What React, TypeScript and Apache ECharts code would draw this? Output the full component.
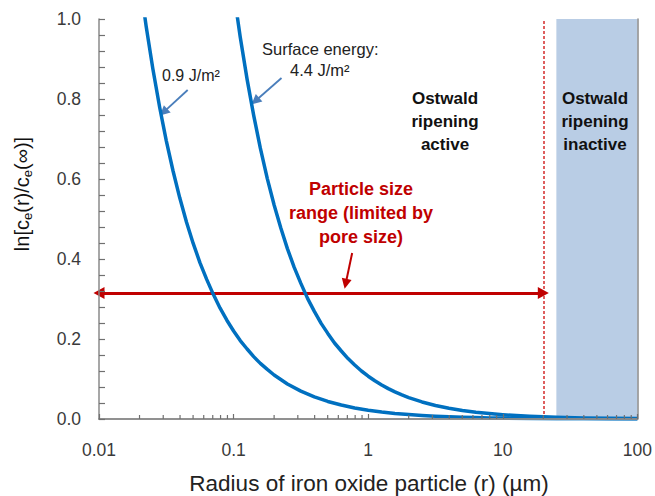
import React, { useEffect, useRef } from "react";
import * as echarts from "echarts";

// Values
const radius09 = [0.02, 0.0224, 0.0251, 0.0282, 0.0316, 0.0355, 0.0398, 0.0447, 0.0501, 0.0562, 0.0631, 0.0708, 0.0794, 0.0891, 0.1, 0.112, 0.126, 0.141, 0.158, 0.178, 0.2, 0.251, 0.316, 0.398, 0.501, 0.631, 0.794, 1, 1.26, 1.58, 2, 2.51, 3.16, 3.98, 5.01, 6.31, 7.94, 10, 15.8, 25.1, 39.8, 63.1, 100];
const lnRatio09 = [1.1, 0.982, 0.876, 0.78, 0.696, 0.62, 0.553, 0.492, 0.439, 0.391, 0.349, 0.311, 0.277, 0.247, 0.22, 0.196, 0.175, 0.156, 0.139, 0.124, 0.11, 0.0876, 0.0696, 0.0553, 0.0439, 0.0349, 0.0277, 0.022, 0.0175, 0.0139, 0.011, 0.0088, 0.007, 0.0055, 0.0044, 0.0035, 0.0028, 0.0022, 0.0014, 0.0009, 0.0006, 0.0003, 0.0002];

const radius44 = [0.1, 0.112, 0.126, 0.141, 0.158, 0.178, 0.2, 0.224, 0.251, 0.282, 0.316, 0.355, 0.398, 0.447, 0.501, 0.562, 0.631, 0.708, 0.794, 0.891, 1, 1.12, 1.26, 1.41, 1.58, 1.78, 2, 2.51, 3.16, 3.98, 5.01, 6.31, 7.94, 10, 12.6, 15.8, 20, 25.1, 39.8, 63.1, 100];
const lnRatio44 = [1.07, 0.955, 0.849, 0.759, 0.677, 0.601, 0.535, 0.478, 0.426, 0.379, 0.339, 0.301, 0.269, 0.239, 0.214, 0.19, 0.17, 0.151, 0.135, 0.12, 0.107, 0.0955, 0.0849, 0.0759, 0.0677, 0.0601, 0.0535, 0.0426, 0.0339, 0.0269, 0.0214, 0.017, 0.0135, 0.0107, 0.0085, 0.0068, 0.0054, 0.0043, 0.0027, 0.0017, 0.0011];

const xTickLabels = ["0.01", "0.1", "1", "10", "100"];
const yTickLabels = ["0.0", "0.2", "0.4", "0.6", "0.8", "1.0"];
const yTickValues = [0, 0.04, 0.08, 0.12, 0.16, 0.2, 0.24, 0.28, 0.32, 0.36, 0.4, 0.44, 0.48, 0.52, 0.56, 0.6, 0.64, 0.68, 0.72, 0.76, 0.8, 0.84, 0.88, 0.92, 0.96, 1.0];

const poreLimit = 20; // µm, red dashed line / arrow end
const inactiveStart = 25; // shaded region start
const rangeArrowY = 0.315;

const decades = [0.01, 0.1, 1, 10];
const minorMultipliers = [2, 3, 4, 5, 6, 7, 8, 9];

const AXIS_GRAY = "#8a8a8a";
const TICK_GRAY = "#707070";
const BLUE = "#0070c0";
const RED = "#c00000";
const FONT = "'Liberation Sans', Arial, sans-serif";

export default function App() {
  const ref = useRef<HTMLDivElement>(null);

  useEffect(() => {
    document.body.style.margin = "0";
    if (!ref.current) return;
    const chart = echarts.init(ref.current, undefined, { renderer: "svg" });

    const xMinorTicks: number[][] = [];
    decades.forEach((d) => minorMultipliers.forEach((m) => xMinorTicks.push([d * m, 0])));

    const fmtX = (v: number) => {
      const i = Math.round(Math.log10(v)) + 2;
      return xTickLabels[i] ?? "";
    };
    const fmtY = (v: number) => {
      const i = Math.round(v / 0.2);
      return yTickLabels[i] ?? "";
    };

    const textBase = { fontFamily: FONT, textVerticalAlign: "middle" };

    const option: any = {
      animation: false,
      textStyle: { fontFamily: FONT },
      grid: { left: 99, right: 16, top: 19, bottom: 77, containLabel: false },
      xAxis: [
        {
          type: "log",
          logBase: 10,
          min: 0.01,
          max: 100,
          axisLine: { show: true, lineStyle: { color: AXIS_GRAY, width: 1.5 } },
          axisTick: { show: true, inside: true, length: 5, lineStyle: { color: TICK_GRAY, width: 1.2 } },
          axisLabel: { formatter: fmtX, fontSize: 17.5, color: "#3a3a3a", margin: 22, fontFamily: FONT },
          splitLine: { show: false },
          z: 10,
        },
        {
          type: "log",
          logBase: 10,
          min: 0.01,
          max: 100,
          position: "top",
          axisLine: { show: true, lineStyle: { color: AXIS_GRAY, width: 1.5 } },
          axisTick: { show: false },
          axisLabel: { show: false },
          splitLine: { show: false },
          z: 10,
        },
      ],
      yAxis: [
        {
          type: "value",
          min: 0,
          max: 1,
          interval: 0.2,
          axisLine: { show: true, lineStyle: { color: AXIS_GRAY, width: 1.5 } },
          axisTick: { show: true, inside: true, length: 6, lineStyle: { color: TICK_GRAY, width: 1.2 } },
          minorTick: { show: true, splitNumber: 5, length: 6, lineStyle: { color: TICK_GRAY, width: 1.2 } },
          axisLabel: { formatter: fmtY, fontSize: 17.5, color: "#3a3a3a", margin: 18, fontFamily: FONT },
          splitLine: { show: false },
          z: 10,
        },
        {
          type: "value",
          min: 0,
          max: 1,
          position: "right",
          axisLine: { show: true, lineStyle: { color: AXIS_GRAY, width: 1.5 } },
          axisTick: { show: false },
          axisLabel: { show: false },
          splitLine: { show: false },
          z: 10,
        },
      ],
      series: [
        {
          name: "region",
          type: "line",
          data: [],
          silent: true,
          z: 1,
          markArea: {
            silent: true,
            itemStyle: { color: "#b9cde5" },
            data: [[{ xAxis: inactiveStart }, { xAxis: 100 }]],
          },
          markLine: {
            silent: true,
            symbol: ["none", "none"],
            label: { show: false },
            lineStyle: { color: "#d42a2a", width: 1.5, type: [3, 2] },
            data: [{ xAxis: poreLimit }],
          },
        },
        {
          name: "xMinorTicks",
          type: "custom",
          silent: true,
          clip: false,
          z: 11,
          data: xMinorTicks,
          renderItem: (params: any, api: any) => {
            const p = api.coord([api.value(0), api.value(1)]);
            return {
              type: "line",
              shape: { x1: p[0], y1: p[1], x2: p[0], y2: p[1] - 4 },
              style: { stroke: TICK_GRAY, lineWidth: 1.2 },
            };
          },
        },
        {
          name: "0.9 J/m²",
          type: "line",
          data: radius09.map((r, i) => [r, lnRatio09[i]]),
          showSymbol: false,
          smooth: false,
          clip: true,
          lineStyle: { color: BLUE, width: 3.5, join: "round" },
          z: 5,
        },
        {
          name: "4.4 J/m²",
          type: "line",
          data: radius44.map((r, i) => [r, lnRatio44[i]]),
          showSymbol: false,
          smooth: false,
          clip: true,
          lineStyle: { color: BLUE, width: 3.5, join: "round" },
          z: 5,
        },
        {
          name: "rangeArrow",
          type: "line",
          data: [],
          silent: true,
          z: 6,
          markLine: {
            silent: true,
            symbol: ["triangle", "triangle"],
            symbolSize: [12, 11],
            label: { show: false },
            lineStyle: { color: RED, width: 3, type: "solid" },
            data: [[{ coord: [0.01, rangeArrowY] }, { coord: [poreLimit, rangeArrowY] }]],
          },
        },
        {
          name: "redPointer",
          type: "line",
          data: [],
          silent: true,
          z: 6,
          markLine: {
            silent: true,
            symbol: ["none", "triangle"],
            symbolSize: [10, 10],
            label: { show: false },
            lineStyle: { color: RED, width: 2, type: "solid" },
            data: [[{ coord: [0.76, 0.415] }, { coord: [0.68, 0.338] }]],
          },
        },
        {
          name: "bluePointers",
          type: "line",
          data: [],
          silent: true,
          z: 6,
          markLine: {
            silent: true,
            symbol: ["none", "triangle"],
            symbolSize: [10, 10],
            label: { show: false },
            lineStyle: { color: "#4a7ebb", width: 1.8, type: "solid" },
            data: [
              [{ coord: [0.0456, 0.8225] }, { coord: [0.0302, 0.767] }],
              [{ coord: [0.227, 0.8525] }, { coord: [0.145, 0.795] }],
            ],
          },
        },
      ],
      graphic: [
        {
          type: "group",
          id: "labels",
          z: 100,
          children: [
            {
              type: "text",
              x: 162,
              y: 75.5,
              z: 100,
              style: { ...textBase, text: "0.9 J/m²", fontSize: 16, fill: "#222", textAlign: "left" },
            },
            {
              type: "text",
              x: 262,
              y: 49,
              z: 100,
              style: { ...textBase, text: "Surface energy:", fontSize: 16.5, fill: "#222", textAlign: "left" },
            },
            {
              type: "text",
              x: 290,
              y: 70,
              z: 100,
              style: { ...textBase, text: "4.4 J/m²", fontSize: 16.5, fill: "#222", textAlign: "left" },
            },
            {
              type: "text",
              x: 445,
              y: 121.5,
              z: 100,
              style: {
                ...textBase,
                text: "Ostwald\nripening\nactive",
                fontSize: 17,
                fontWeight: "bold",
                lineHeight: 23,
                fill: "#111",
                textAlign: "center",
              },
            },
            {
              type: "text",
              x: 595,
              y: 121.5,
              z: 100,
              style: {
                ...textBase,
                text: "Ostwald\nripening\ninactive",
                fontSize: 17,
                fontWeight: "bold",
                lineHeight: 23,
                fill: "#111",
                textAlign: "center",
              },
            },
            {
              type: "text",
              x: 361,
              y: 212.5,
              z: 100,
              style: {
                ...textBase,
                text: "Particle size\nrange (limited by\npore size)",
                fontSize: 18,
                fontWeight: "bold",
                lineHeight: 24,
                fill: RED,
                textAlign: "center",
              },
            },
            {
              type: "text",
              x: 369,
              y: 483,
              z: 100,
              style: {
                ...textBase,
                text: "Radius of iron oxide particle (r) (µm)",
                fontSize: 22.5,
                fill: "#222",
                textAlign: "center",
              },
            },
            {
              type: "text",
              x: 22,
              y: 194,
              z: 100,
              rotation: Math.PI / 2,
              style: {
                ...textBase,
                text: "ln[c{sub|e}(r)/c{sub|e}(∞)]",
                fontSize: 20,
                fill: "#111",
                textAlign: "center",
                rich: {
                  sub: { fontSize: 13, fontFamily: FONT, fill: "#111", padding: [10, 0, 0, 0], verticalAlign: "bottom" },
                },
              },
            },
          ],
        },
      ],
    };

    chart.setOption(option);

    // y-axis inside ticks placed through the chart's own scale
    try {
      const tickLines = yTickValues.map((v) => {
        const p = chart.convertToPixel({ gridIndex: 0 }, [0.01, v]) as number[];
        const y = Math.round(p[1]) + 0.5;
        return {
          type: "line",
          z: 50,
          shape: { x1: p[0], y1: y, x2: p[0] + 6, y2: y },
          style: { stroke: TICK_GRAY, lineWidth: 1 },
          silent: true,
        };
      });
      chart.setOption({ graphic: [{ type: "group", id: "yticks", z: 50, children: tickLines }] });
    } catch (e) {
      // ignore
    }

    return () => chart.dispose();
  }, []);

  return <div ref={ref} style={{ width: 655, height: 496 }} />;
}
